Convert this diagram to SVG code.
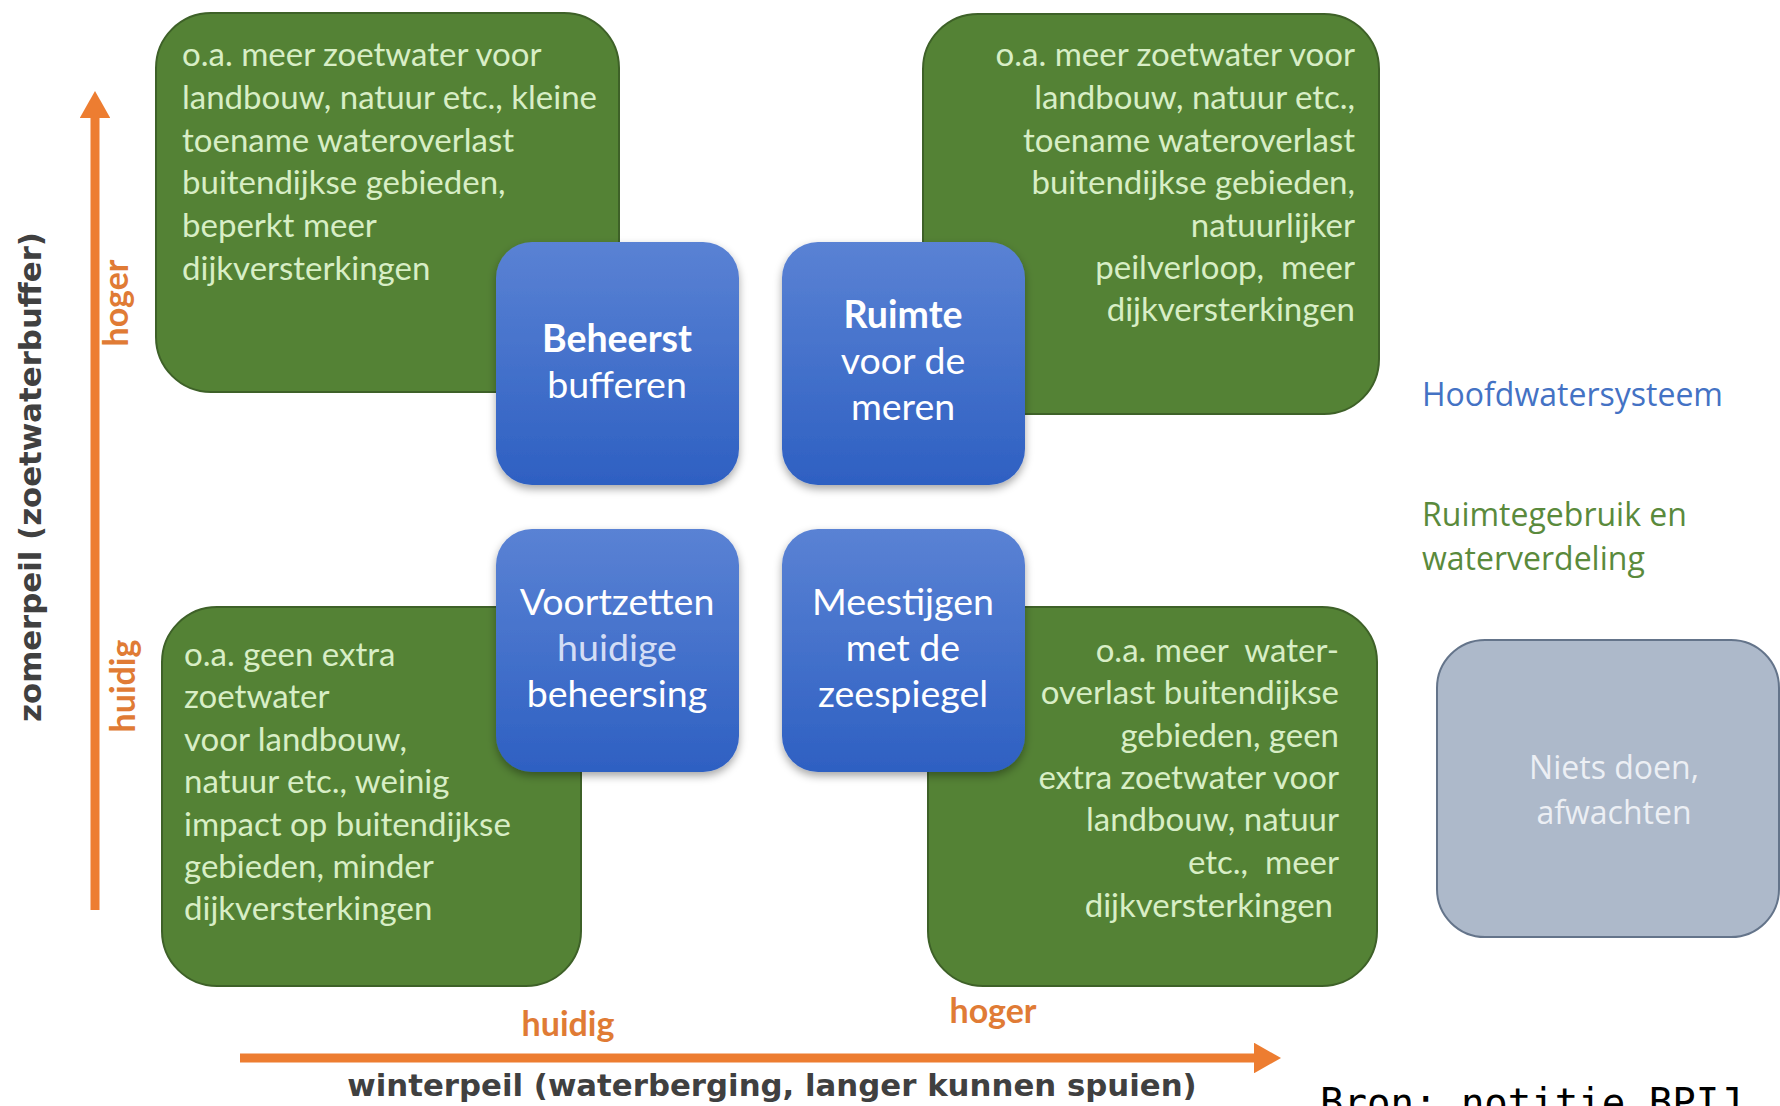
<svg xmlns="http://www.w3.org/2000/svg" width="1780" height="1106" viewBox="0 0 1780 1106">
<defs>
<linearGradient id="blueGrad" x1="0" y1="0" x2="0" y2="1">
<stop offset="0" stop-color="#5a82d4"/>
<stop offset="1" stop-color="#2e60c2"/>
</linearGradient>
<filter id="shadow" x="-10%" y="-10%" width="130%" height="130%">
<feDropShadow dx="0" dy="4" stdDeviation="4" flood-color="#000" flood-opacity="0.35"/>
</filter>
<marker id="arrowHead" markerWidth="3" markerHeight="3.4" refX="0" refY="1.7" orient="auto" markerUnits="strokeWidth">
<path d="M0,0 L3,1.7 L0,3.4 Z" fill="#ed7d31"/>
</marker>
<style>
.green{fill:#548235;stroke:#3e6128;stroke-width:2}
.gtext{font-family:"Lato","Liberation Sans",sans-serif;font-size:33px;fill:#d8eec6;white-space:pre}
.blue{fill:url(#blueGrad);filter:url(#shadow)}
.btext{font-family:"Lato","Liberation Sans",sans-serif;font-size:37.5px;fill:#ffffff;text-anchor:middle}
.bold{font-weight:bold}
.axis{stroke:#ed7d31;stroke-width:9;fill:none}
.otext{font-family:"Lato","Liberation Sans",sans-serif;font-size:34px;font-weight:bold;fill:#e07b35}
.atext{font-family:"DejaVu Sans",sans-serif;font-size:30.8px;font-weight:bold;fill:#404040}
.legend{font-family:"Open Sans",sans-serif;font-size:32px}
</style>
</defs>
<rect width="1780" height="1106" fill="#ffffff"/>

<g id="connectors">
<line class="axis" x1="95" y1="910" x2="95" y2="118" marker-end="url(#arrowHead)"/>
<line class="axis" x1="240" y1="1058" x2="1254" y2="1058" marker-end="url(#arrowHead)"/>
</g>

<g id="box-tl">
<rect class="green" x="156" y="13" width="463" height="379" rx="55"/>
<text class="gtext" x="182" y="66">o.a. meer zoetwater voor</text>
<text class="gtext" x="182" y="109">landbouw, natuur etc., kleine</text>
<text class="gtext" x="182" y="152">toename wateroverlast</text>
<text class="gtext" x="182" y="194">buitendijkse gebieden,</text>
<text class="gtext" x="182" y="237">beperkt meer</text>
<text class="gtext" x="182" y="280">dijkversterkingen</text>
</g>

<g id="box-tr">
<rect class="green" x="923" y="14" width="456" height="400" rx="55"/>
<g text-anchor="end">
<text class="gtext" x="1355" y="66">o.a. meer zoetwater voor</text>
<text class="gtext" x="1355" y="109">landbouw, natuur etc.,</text>
<text class="gtext" x="1355" y="152">toename wateroverlast</text>
<text class="gtext" x="1355" y="194">buitendijkse gebieden,</text>
<text class="gtext" x="1355" y="237">natuurlijker</text>
<text class="gtext" x="1355" y="279">peilverloop,  meer</text>
<text class="gtext" x="1355" y="321">dijkversterkingen</text>
</g>
</g>

<g id="box-bl">
<rect class="green" x="162" y="607" width="419" height="379" rx="55"/>
<text class="gtext" x="184" y="666">o.a. geen extra</text>
<text class="gtext" x="184" y="708">zoetwater</text>
<text class="gtext" x="184" y="751">voor landbouw,</text>
<text class="gtext" x="184" y="793">natuur etc., weinig</text>
<text class="gtext" x="184" y="836">impact op buitendijkse</text>
<text class="gtext" x="184" y="878">gebieden, minder</text>
<text class="gtext" x="184" y="920">dijkversterkingen</text>
</g>

<g id="box-br">
<rect class="green" x="928" y="607" width="449" height="379" rx="55"/>
<g text-anchor="end">
<text class="gtext" x="1339" y="662">o.a. meer  water-</text>
<text class="gtext" x="1339" y="704">overlast buitendijkse</text>
<text class="gtext" x="1339" y="747">gebieden, geen</text>
<text class="gtext" x="1339" y="789">extra zoetwater voor</text>
<text class="gtext" x="1339" y="831">landbouw, natuur</text>
<text class="gtext" x="1339" y="874">etc.,  meer</text>
<text class="gtext" x="1333" y="917">dijkversterkingen</text>
</g>
</g>

<g id="node-beheerst">
<rect class="blue" x="496" y="242" width="243" height="243" rx="36"/>
<text class="btext bold" x="617" y="352">Beheerst</text>
<text class="btext" x="617" y="398">bufferen</text>
</g>

<g id="node-ruimte">
<rect class="blue" x="782" y="242" width="243" height="243" rx="36"/>
<text class="btext bold" x="903" y="328">Ruimte</text>
<text class="btext" x="903" y="374">voor de</text>
<text class="btext" x="903" y="420">meren</text>
</g>

<g id="node-voortzetten">
<rect class="blue" x="496" y="529" width="243" height="243" rx="36"/>
<text class="btext" x="617" y="615">Voortzetten</text>
<text class="btext" x="617" y="661" style="fill:#d3ddf5">huidige</text>
<text class="btext" x="617" y="707">beheersing</text>
</g>

<g id="node-meestijgen">
<rect class="blue" x="782" y="529" width="243" height="243" rx="36"/>
<text class="btext" x="903" y="615">Meestijgen</text>
<text class="btext" x="903" y="661">met de</text>
<text class="btext" x="903" y="707">zeespiegel</text>
</g>

<g id="node-niets">
<rect x="1437" y="640" width="342" height="297" rx="48" fill="#adb9ca" stroke="#64748a" stroke-width="2"/>
<text class="legend" x="1614" y="779" text-anchor="middle" fill="#eceff4">Niets doen,</text>
<text class="legend" x="1614" y="824" text-anchor="middle" fill="#eceff4">afwachten</text>
</g>

<g id="legend">
<text class="legend" x="1422" y="406" fill="#4472c4">Hoofdwatersysteem</text>
<text class="legend" x="1422" y="526" fill="#5a8a3c">Ruimtegebruik en</text>
<text class="legend" x="1422" y="570" fill="#5a8a3c">waterverdeling</text>
</g>

<g id="axis-labels">
<text class="atext" transform="translate(41,477) rotate(-90)" text-anchor="middle">zomerpeil (zoetwaterbuffer)</text>
<text class="atext" x="772" y="1096" text-anchor="middle">winterpeil (waterberging, langer kunnen spuien)</text>
<text class="otext" transform="translate(128,303) rotate(-90)" text-anchor="middle">hoger</text>
<text class="otext" transform="translate(135,686) rotate(-90)" text-anchor="middle">huidig</text>
<text class="otext" x="568" y="1036" text-anchor="middle">huidig</text>
<text class="otext" x="993" y="1023" text-anchor="middle">hoger</text>
</g>

<text x="1320" y="1116" font-family="'DejaVu Sans Mono',monospace" font-size="39" fill="#000000">Bron: notitie BPIJ</text>
</svg>
